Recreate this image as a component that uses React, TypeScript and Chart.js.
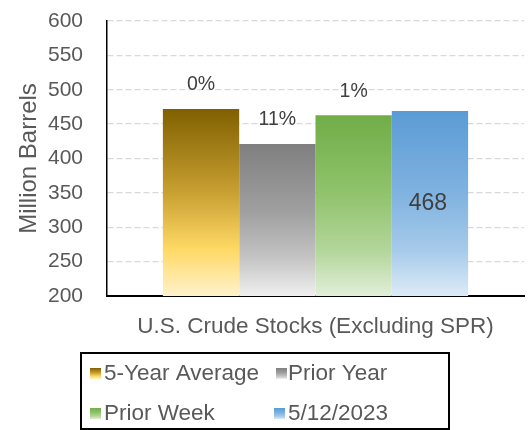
import React, { useEffect, useRef } from "react";
import { Chart, registerables } from "chart.js";

Chart.register(...registerables);

const categories = ["U.S. Crude Stocks (Excluding SPR)"];
const seriesNames = ["5-Year Average", "Prior Year", "Prior Week", "5/12/2023"];
const seriesValues = [472, 421, 463, 469];
const barLabels = ["0%", "11%", "1%", "468"];
const yTicks = [200, 250, 300, 350, 400, 450, 500, 550, 600];

const gradientStops: string[][] = [
  ["#7F6000", "#C9A032", "#FFD966", "#FFF2CC"],
  ["#7F7F7F", "#A0A0A0", "#C4C4C4", "#F0F0F0"],
  ["#70AD47", "#92C46E", "#B3D69B", "#E2EFDA"],
  ["#5B9BD5", "#80B3E0", "#A6CAEA", "#DDEBF7"],
];
const stopPos = [0, 0.45, 0.75, 1];

const FONT = "'Liberation Sans', Arial, sans-serif";

function barGradient(chart: any, value: number, stops: string[]) {
  const ctx = chart.ctx;
  const y = chart.scales && chart.scales.y;
  if (!y || !chart.chartArea) return stops[0];
  const top = y.getPixelForValue(value);
  const bottom = y.getPixelForValue(y.min);
  const g = ctx.createLinearGradient(0, top, 0, bottom);
  stops.forEach((c, i) => g.addColorStop(stopPos[i], c));
  return g;
}

function legendGradient(ctx: CanvasRenderingContext2D, top: number, h: number, stops: string[]) {
  const g = ctx.createLinearGradient(0, top, 0, top + h);
  stops.forEach((c, i) => g.addColorStop(stopPos[i], c));
  return g;
}

const labelPlugin = {
  id: "barLabels",
  afterDatasetsDraw(chart: any) {
    const ctx = chart.ctx;
    ctx.save();
    ctx.textAlign = "center";
    ctx.textBaseline = "middle";
    ctx.fillStyle = "#404040";
    chart.data.datasets.forEach((ds: any, i: number) => {
      const el = chart.getDatasetMeta(i).data[0];
      if (!el) return;
      if (i < 3) {
        ctx.font = `19.5px ${FONT}`;
        ctx.fillText(barLabels[i], el.x, el.y - 24);
      } else {
        const base = Math.min(el.base, chart.chartArea.bottom);
        ctx.font = `23px ${FONT}`;
        ctx.fillText(barLabels[i], el.x - 2, (el.y + base) / 2);
      }
    });
    ctx.restore();
  },
};

const legendPlugin = {
  id: "boxLegend",
  afterDraw(chart: any) {
    const ctx = chart.ctx as CanvasRenderingContext2D;
    ctx.save();
    ctx.strokeStyle = "#000";
    ctx.lineWidth = 2;
    ctx.strokeRect(81, 353, 368, 76);
    const items = [
      { mx: 90, my: 368, tx: 104, ty: 374 },
      { mx: 276, my: 368, tx: 288, ty: 374 },
      { mx: 90, my: 408, tx: 104, ty: 414 },
      { mx: 274, my: 408, tx: 288, ty: 414 },
    ];
    ctx.font = `22.5px ${FONT}`;
    ctx.textBaseline = "middle";
    ctx.textAlign = "left";
    items.forEach((it, i) => {
      ctx.fillStyle = legendGradient(ctx, it.my, 11, gradientStops[i]);
      ctx.fillRect(it.mx, it.my, 11, 11);
      ctx.fillStyle = "#595959";
      ctx.fillText(seriesNames[i], it.tx, it.ty);
    });
    ctx.restore();
  },
};

export default function App() {
  const ref = useRef<HTMLCanvasElement>(null);
  useEffect(() => {
    if (!ref.current) return;
    const chart = new Chart(ref.current, {
      type: "bar",
      data: {
        labels: categories,
        datasets: seriesNames.map((name, i) => ({
          label: name,
          data: [seriesValues[i]],
          backgroundColor: (c: any) => barGradient(c.chart, seriesValues[i], gradientStops[i]),
          borderWidth: 0,
          barPercentage: 1,
          categoryPercentage: 0.732,
        })),
      },
      options: {
        responsive: false,
        animation: false,
        devicePixelRatio: 1,
        layout: { padding: { top: 21, right: 5, left: 0, bottom: 0 } },
        plugins: {
          legend: { display: false },
          tooltip: { enabled: false },
        },
        scales: {
          x: {
            grid: { display: false, drawTicks: false },
            border: { display: true, color: "#000", width: 2 },
            ticks: {
              color: "#595959",
              font: { family: FONT, size: 22.5 },
              padding: 17,
            },
            afterFit: (s: any) => {
              s.height = 134;
              s.paddingLeft = 0;
              s.paddingRight = 0;
            },
          },
          y: {
            min: 200,
            max: 600,
            afterBuildTicks: (s: any) => {
              s.ticks = yTicks.map((v) => ({ value: v }));
            },
            grid: { color: "#D9D9D9", lineWidth: 1.3, drawTicks: false },
            border: { display: true, color: "#000", width: 1.5, dash: [6, 3] },
            ticks: {
              color: "#595959",
              font: { family: FONT, size: 21 },
              padding: 24,
            },
            title: {
              display: true,
              text: "Million Barrels",
              color: "#595959",
              font: { family: FONT, size: 24 },
              padding: { top: 15, bottom: 0 },
            },
            afterFit: (s: any) => {
              s.width = 107;
              s.paddingTop = 0;
              s.paddingBottom = 0;
            },
          },
        },
      },
      plugins: [labelPlugin, legendPlugin],
    });
    return () => chart.destroy();
  }, []);
  return (
    <div style={{ position: "fixed", left: 0, top: 0, width: 529, height: 430, background: "#fff" }}>
      <canvas ref={ref} width={529} height={430} style={{ width: 529, height: 430 }} />
    </div>
  );
}
